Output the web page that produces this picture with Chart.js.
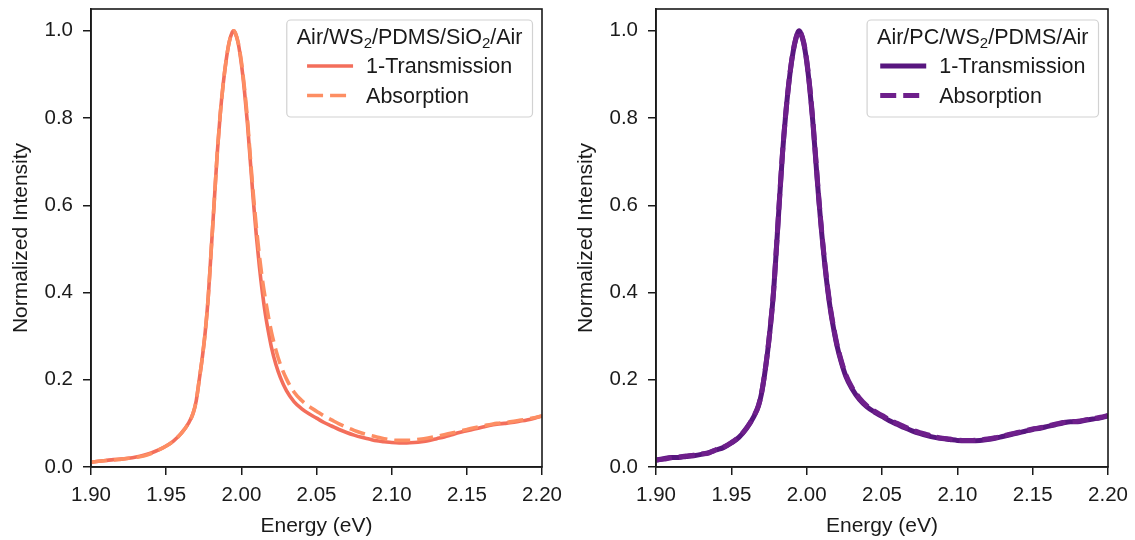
<!DOCTYPE html>
<html>
<head>
<meta charset="utf-8">
<script src="https://cdn.jsdelivr.net/npm/chart.js@4.4.1/dist/chart.umd.min.js"></script>
<style>
  html, body { margin: 0; padding: 0; background: #ffffff; }
  #wrap { position: relative; width: 1135px; height: 540px; overflow: hidden; }
  canvas { position: absolute; top: 0; }
  #ca { left: 0; }
  #cb { left: 565px; }
</style>
</head>
<body>
<div id="wrap">
  <canvas id="ca" width="565" height="540"></canvas>
  <canvas id="cb" width="570" height="540"></canvas>
</div>
<script>
// Photon energy grid (eV), shared by all four spectra
const energy = [
  1.900, 1.905, 1.910, 1.915, 1.920, 1.925, 1.930, 1.935, 1.940, 1.945,
  1.950, 1.955, 1.960, 1.965, 1.968, 1.970, 1.972, 1.974, 1.976, 1.978,
  1.980, 1.982, 1.984, 1.986, 1.988, 1.990, 1.992, 1.994, 1.995, 1.996,
  1.998, 2.000, 2.002, 2.004, 2.006, 2.008, 2.010, 2.012, 2.014, 2.016,
  2.018, 2.020, 2.023, 2.026, 2.030, 2.035, 2.040, 2.045, 2.050, 2.055,
  2.060, 2.065, 2.070, 2.075, 2.080, 2.085, 2.090, 2.095, 2.100, 2.105,
  2.110, 2.115, 2.120, 2.125, 2.130, 2.135, 2.140, 2.145, 2.150, 2.155,
  2.160, 2.165, 2.170, 2.175, 2.180, 2.185, 2.190, 2.195, 2.200
];

// Air/WS2/PDMS/SiO2/Air stack
const transmissionA = [
  0.011, 0.013, 0.015, 0.017, 0.018, 0.020, 0.023, 0.027, 0.032, 0.039,
  0.048, 0.060, 0.077, 0.101, 0.124, 0.152, 0.200, 0.250, 0.310, 0.390,
  0.500, 0.610, 0.720, 0.810, 0.880, 0.935, 0.975, 0.997, 1.000, 0.995,
  0.970, 0.925, 0.865, 0.790, 0.700, 0.610, 0.530, 0.460, 0.400, 0.350,
  0.310, 0.275, 0.235, 0.205, 0.175, 0.150, 0.134, 0.122, 0.112, 0.102,
  0.094, 0.086, 0.079, 0.073, 0.068, 0.064, 0.060, 0.058, 0.056, 0.055,
  0.055, 0.056, 0.058, 0.061, 0.065, 0.069, 0.074, 0.079, 0.083, 0.087,
  0.091, 0.095, 0.098, 0.100, 0.102, 0.105, 0.108, 0.112, 0.117
];
const absorptionA = [
  0.011, 0.013, 0.015, 0.016, 0.018, 0.020, 0.022, 0.025, 0.031, 0.039,
  0.048, 0.060, 0.077, 0.101, 0.124, 0.152, 0.200, 0.250, 0.310, 0.390,
  0.500, 0.610, 0.720, 0.810, 0.880, 0.935, 0.975, 0.997, 1.000, 0.995,
  0.972, 0.930, 0.872, 0.800, 0.710, 0.625, 0.550, 0.485, 0.430, 0.385,
  0.345, 0.310, 0.268, 0.235, 0.202, 0.172, 0.153, 0.139, 0.128, 0.117,
  0.108, 0.099, 0.091, 0.084, 0.078, 0.073, 0.069, 0.065, 0.062, 0.061,
  0.061, 0.062, 0.064, 0.067, 0.070, 0.074, 0.078, 0.082, 0.086, 0.090,
  0.094, 0.097, 0.100, 0.102, 0.104, 0.107, 0.110, 0.113, 0.117
];

// Air/PC/WS2/PDMS/Air stack
const transmissionB = [
  0.016, 0.019, 0.022, 0.022, 0.024, 0.026, 0.029, 0.033, 0.039, 0.045,
  0.055, 0.068, 0.088, 0.116, 0.140, 0.168, 0.210, 0.262, 0.325, 0.400,
  0.505, 0.615, 0.720, 0.805, 0.875, 0.930, 0.970, 0.995, 1.000, 0.995,
  0.972, 0.930, 0.870, 0.795, 0.705, 0.615, 0.535, 0.465, 0.405, 0.355,
  0.315, 0.280, 0.240, 0.208, 0.180, 0.155, 0.138, 0.126, 0.116, 0.106,
  0.098, 0.090, 0.083, 0.077, 0.072, 0.068, 0.065, 0.063, 0.061, 0.060,
  0.060, 0.061, 0.063, 0.066, 0.070, 0.074, 0.078, 0.082, 0.086, 0.089,
  0.093, 0.097, 0.101, 0.104, 0.104, 0.107, 0.110, 0.113, 0.117
];
const absorptionB = [
  0.016, 0.018, 0.021, 0.023, 0.025, 0.027, 0.030, 0.032, 0.040, 0.046,
  0.056, 0.069, 0.089, 0.117, 0.141, 0.169, 0.211, 0.263, 0.326, 0.402,
  0.507, 0.617, 0.722, 0.806, 0.876, 0.931, 0.971, 0.995, 1.000, 0.996,
  0.974, 0.933, 0.873, 0.799, 0.709, 0.619, 0.539, 0.469, 0.409, 0.359,
  0.318, 0.283, 0.243, 0.211, 0.183, 0.158, 0.140, 0.128, 0.118, 0.108,
  0.100, 0.092, 0.085, 0.079, 0.074, 0.069, 0.066, 0.064, 0.062, 0.061,
  0.061, 0.062, 0.064, 0.067, 0.071, 0.075, 0.079, 0.083, 0.087, 0.090,
  0.094, 0.098, 0.102, 0.104, 0.105, 0.108, 0.111, 0.114, 0.118
];

const xTicks = [1.90, 1.95, 2.00, 2.05, 2.10, 2.15, 2.20];
const yTicks = [0.0, 0.2, 0.4, 0.6, 0.8, 1.0];
const seriesLabels = ['1-Transmission', 'Absorption'];
const legendTitleA = 'Air/WS_{2}/PDMS/SiO_{2}/Air';
const legendTitleB = 'Air/PC/WS_{2}/PDMS/Air';
const xTitle = 'Energy (eV)';
const yTitle = 'Normalized Intensity';

const FONT = '"Liberation Sans", Arial, Helvetica, sans-serif';
const INK = '#1a1a1a';

function points(ys) {
  return energy.map((e, i) => ({ x: e, y: ys[i] }));
}

// Split "WS_{2}" style text into normal / subscript runs
function richRuns(str) {
  const runs = [];
  const re = /_\{([^}]*)\}/g;
  let last = 0, m;
  while ((m = re.exec(str))) {
    if (m.index > last) runs.push({ t: str.slice(last, m.index), sub: false });
    runs.push({ t: m[1], sub: true });
    last = re.lastIndex;
  }
  if (last < str.length) runs.push({ t: str.slice(last), sub: false });
  return runs;
}

// Closed frame around the plotting area
const framePlugin = {
  id: 'frame',
  afterDraw(chart) {
    const { ctx, chartArea: a } = chart;
    ctx.save();
    ctx.strokeStyle = INK;
    ctx.lineWidth = 1.6;
    ctx.strokeRect(a.left, a.top, a.right - a.left, a.bottom - a.top);
    ctx.restore();
  }
};

// Framed legend with a title, placed in the upper-right corner of the plot
const boxLegendPlugin = {
  id: 'boxLegend',
  afterDraw(chart, args, opts) {
    const ctx = chart.ctx, a = chart.chartArea;
    const fs = opts.fontSize, subFs = Math.round(fs * 0.7);
    const mainFont = `${fs}px ${FONT}`, subFont = `${subFs}px ${FONT}`;
    ctx.save();
    const runs = richRuns(opts.title);
    let titleW = 0;
    runs.forEach(r => { ctx.font = r.sub ? subFont : mainFont; r.w = ctx.measureText(r.t).width; titleW += r.w; });
    ctx.font = mainFont;
    const items = chart.data.datasets.map(d => ({
      label: d.label, color: d.borderColor, dash: d.borderDash || []
    }));
    const handleLen = 46, handleGap = 13;
    let textW = 0;
    items.forEach(it => { it.w = ctx.measureText(it.label).width; textW = Math.max(textW, it.w); });
    const rowW = handleLen + handleGap + textW;
    const inner = Math.max(titleW, rowW);
    const padX = 10;
    const boxW = inner + 2 * padX, boxH = 97;
    const right = a.right - 9.5, top = a.top + 11;
    const left = right - boxW;

    ctx.beginPath();
    if (ctx.roundRect) ctx.roundRect(left, top, boxW, boxH, 4);
    else ctx.rect(left, top, boxW, boxH);
    ctx.fillStyle = 'rgba(255,255,255,0.8)';
    ctx.fill();
    ctx.strokeStyle = '#d2d2d2';
    ctx.lineWidth = 1.2;
    ctx.stroke();

    ctx.fillStyle = INK;
    ctx.textBaseline = 'alphabetic';
    ctx.textAlign = 'left';
    let x = left + padX + (inner - titleW) / 2;
    const tb = top + 24;
    runs.forEach(r => {
      ctx.font = r.sub ? subFont : mainFont;
      ctx.fillText(r.t, x, r.sub ? tb + 4 : tb);
      x += r.w;
    });

    const rx = left + padX + (inner - rowW) / 2;
    ctx.font = mainFont;
    items.forEach((it, i) => {
      const bl = top + 53 + i * 29.5;
      ctx.save();
      ctx.strokeStyle = it.color;
      ctx.lineWidth = opts.handleWidth;
      ctx.setLineDash(it.dash);
      ctx.beginPath();
      ctx.moveTo(rx, bl - 7);
      ctx.lineTo(rx + handleLen, bl - 7);
      ctx.stroke();
      ctx.restore();
      ctx.fillStyle = INK;
      ctx.fillText(it.label, rx + handleLen + handleGap, bl);
    });
    ctx.restore();
  }
};

function makeChart(canvasId, solidY, dashY, solidColor, dashColor, lw, title, padRight) {
  return new Chart(document.getElementById(canvasId), {
    type: 'line',
    data: {
      datasets: [
        {
          label: seriesLabels[0], data: points(solidY),
          borderColor: solidColor, borderWidth: lw, pointRadius: 0,
          cubicInterpolationMode: 'monotone', order: 1
        },
        {
          label: seriesLabels[1], data: points(dashY),
          borderColor: dashColor, borderWidth: lw, borderDash: [16, 7], pointRadius: 0,
          cubicInterpolationMode: 'monotone', order: 0
        }
      ]
    },
    options: {
      responsive: false,
      animation: false,
      events: [],
      layout: { padding: { top: 9, right: padRight, left: 0, bottom: 0 } },
      plugins: {
        legend: { display: false },
        tooltip: { enabled: false },
        boxLegend: { title: title, fontSize: 21.5, handleWidth: lw }
      },
      scales: {
        x: {
          type: 'linear', min: 1.9, max: 2.2,
          afterBuildTicks: s => { s.ticks = xTicks.map(v => ({ value: v })); },
          afterFit: s => { s.height = 73; s.paddingLeft = 0; s.paddingRight = 0; },
          ticks: {
            callback: v => v.toFixed(2), color: INK, padding: 8,
            maxRotation: 0, autoSkip: false, font: { family: FONT, size: 20.5 }
          },
          grid: { drawOnChartArea: false, drawTicks: true, tickLength: 8, color: INK, lineWidth: 1.5 },
          border: { display: true, color: INK, width: 1.6 },
          title: { display: true, text: xTitle, color: INK, font: { family: FONT, size: 21 }, padding: { top: 0, bottom: 1 } }
        },
        y: {
          type: 'linear', min: 0, max: 1.05,
          afterBuildTicks: s => { s.ticks = yTicks.map(v => ({ value: v })); },
          afterFit: s => { s.width = 91; s.paddingTop = 0; s.paddingBottom = 0; },
          ticks: {
            callback: v => v.toFixed(1), color: INK, padding: 10,
            autoSkip: false, font: { family: FONT, size: 20.5 }
          },
          grid: { drawOnChartArea: false, drawTicks: true, tickLength: 8, color: INK, lineWidth: 1.5 },
          border: { display: true, color: INK, width: 1.6 },
          title: { display: true, text: yTitle, color: INK, font: { family: FONT, size: 21 }, padding: { top: 9, bottom: 0 } }
        }
      }
    },
    plugins: [framePlugin, boxLegendPlugin]
  });
}

makeChart('ca', transmissionA, absorptionA, '#f36e5b', '#fd8e63', 3.6, legendTitleA, 23);
makeChart('cb', transmissionB, absorptionB, '#58167f', '#6e1f8b', 5, legendTitleB, 27);
</script>
</body>
</html>
